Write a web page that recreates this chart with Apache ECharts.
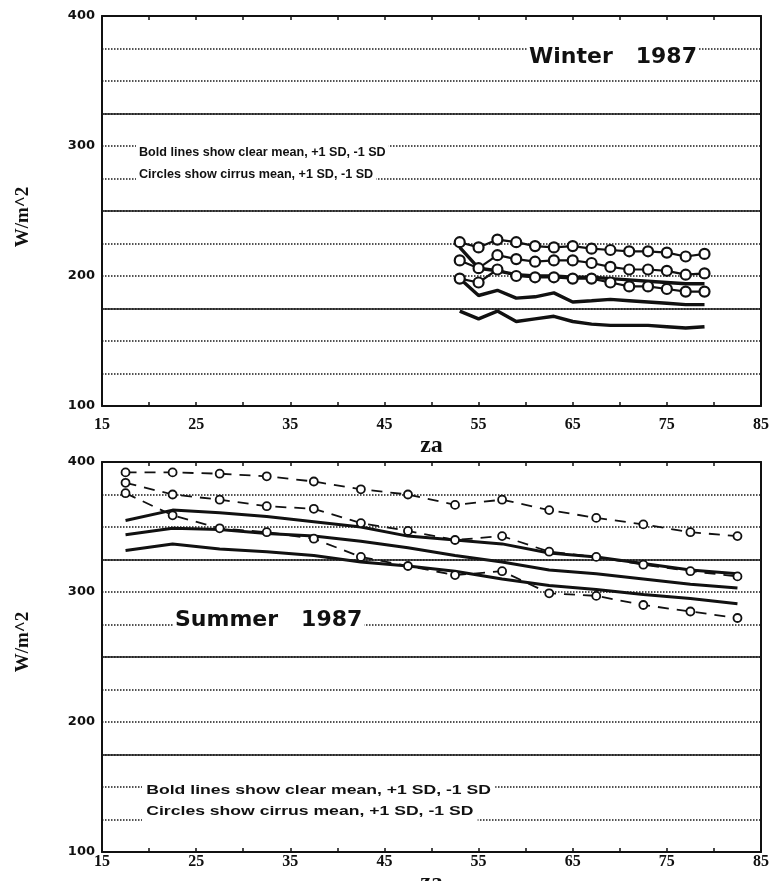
<!DOCTYPE html>
<html><head><meta charset="utf-8">
<script src="https://cdn.jsdelivr.net/npm/echarts@6/dist/echarts.min.js"></script>
<style>html,body{margin:0;padding:0;background:#fff}#c{width:769px;height:881px}</style>
</head><body><div id="c"></div>
<script>
// ---- data ----
const winterZa = [53,55,57,59,61,63,65,67,69,71,73,75,77,79];
const winterCirrusPlus  = [226,222,228,226,223,222,223,221,220,219,219,218,215,217];
const winterCirrusMean  = [212,206,216,213,211,212,212,210,207,205,205,204,201,202];
const winterCirrusMinus = [198,195,205,200,199,199,198,198,195,192,192,190,188,188];
const winterClearPlus   = [222,206,204,201,200,200,199,199,198,197,196,195,194,194];
const winterClearMean   = [198,185,189,183,184,187,180,181,182,181,180,179,178,178];
const winterClearMinus  = [173,167,173,165,167,169,165,163,162,162,162,161,160,161];

const summerZa = [17.5,22.5,27.5,32.5,37.5,42.5,47.5,52.5,57.5,62.5,67.5,72.5,77.5,82.5];
const summerCirrusPlus  = [392,392,391,389,385,379,375,367,371,363,357,352,346,343];
const summerCirrusMean  = [384,375,371,366,364,353,347,340,343,331,327,321,316,312];
const summerCirrusMinus = [376,359,349,346,341,327,320,313,316,299,297,290,285,280];
const summerClearPlus   = [355,363,361,358,354,350,343,340,337,330,327,322,317,314];
const summerClearMean   = [344,349,348,345,343,339,334,328,323,317,314,310,306,303];
const summerClearMinus  = [332,337,333,331,328,323,320,316,310,305,302,298,295,291];

const xTickLabels = [15,25,35,45,55,65,75,85];
const yTickLabels = [100,200,300,400];
const solidGridValues = [325,250,175];

const winterTitle = 'Winter   1987';
const summerTitle = 'Summer   1987';
const noteBold = 'Bold lines show clear mean, +1 SD, -1 SD';
const noteCircles = 'Circles show cirrus mean, +1 SD, -1 SD';
const yName = 'W/m^2';
const xName = 'za';

// ---- chart ----
const BLACK = '#111';
const pairs = (xs, ys) => xs.map((x, i) => [x, ys[i]]);

function bottomX(gi, margin, nameGap) {
  return {
    type: 'value', gridIndex: gi, position: 'bottom', min: 15, max: 85, interval: 5,
    name: xName, nameLocation: 'middle', nameGap: nameGap,
    nameTextStyle: {fontFamily: 'Liberation Serif', fontWeight: 'bold', fontSize: 24, color: BLACK},
    axisLine: {show: true, onZero: false, lineStyle: {color: BLACK, width: 2}},
    axisTick: {show: true, inside: true, length: 4, lineStyle: {color: BLACK, width: 1.5}},
    axisLabel: {show: true, margin: margin, showMinLabel: true, showMaxLabel: true, hideOverlap: false,
      formatter: v => xTickLabels.includes(v) ? String(v) : '',
      fontFamily: 'Liberation Serif', fontWeight: 'bold', fontSize: 16, color: BLACK},
    splitLine: {show: false}
  };
}
function topX(gi) {
  return {
    type: 'value', gridIndex: gi, position: 'top', min: 15, max: 85, interval: 5,
    axisLine: {show: true, onZero: false, lineStyle: {color: BLACK, width: 2}},
    axisTick: {show: true, inside: true, length: 4, lineStyle: {color: BLACK, width: 1.5}},
    axisLabel: {show: false}, splitLine: {show: false}
  };
}
function leftY(gi) {
  return {
    type: 'value', gridIndex: gi, position: 'left', min: 100, max: 400, interval: 25,
    axisLine: {show: true, onZero: false, lineStyle: {color: BLACK, width: 2}},
    axisTick: {show: false},
    axisLabel: {show: true, margin: 7, showMinLabel: true, showMaxLabel: true, hideOverlap: false,
      formatter: v => yTickLabels.includes(v) ? String(v) : '',
      fontFamily: 'DejaVu Sans', fontWeight: 'bold', fontSize: 13, color: BLACK},
    splitLine: {show: true, lineStyle: {color: '#1a1a1a', width: 1.5, type: [1.5, 1.5]}}
  };
}
function rightY(gi) {
  return {
    type: 'value', gridIndex: gi, position: 'right', min: 100, max: 400, interval: 25,
    axisLine: {show: true, onZero: false, lineStyle: {color: BLACK, width: 2}},
    axisTick: {show: false}, axisLabel: {show: false}, splitLine: {show: false}
  };
}

function cirrus(data, xi, yi, size, bw, lw, dash) {
  return {
    type: 'line', xAxisIndex: xi, yAxisIndex: yi, data: data, z: 5,
    symbol: 'circle', symbolSize: size, showSymbol: true,
    itemStyle: {color: '#fff', borderColor: BLACK, borderWidth: bw},
    lineStyle: {color: BLACK, width: lw, type: dash},
    emphasis: {disabled: true}, silent: true
  };
}
function clear(data, xi, yi, lw, extra) {
  return Object.assign({
    type: 'line', xAxisIndex: xi, yAxisIndex: yi, data: data, z: 3,
    symbol: 'none', showSymbol: false,
    lineStyle: {color: BLACK, width: lw, type: 'solid'},
    emphasis: {disabled: true}, silent: true
  }, extra || {});
}
function solidGrid() {
  return {
    markLine: {
      silent: true, symbol: ['none', 'none'], label: {show: false},
      lineStyle: {color: '#1a1a1a', width: 1.6, type: 'solid'},
      data: solidGridValues.map(v => ({yAxis: v}))
    }
  };
}

function txt(text, x, y, font, pad, sx) {
  return {
    type: 'text', x: x, y: y, z: 100, scaleX: sx || 1,
    style: {text: text, font: font, fill: BLACK, align: 'left', verticalAlign: 'middle',
      backgroundColor: '#fff', padding: pad}
  };
}
const noteFont = 'bold 12.6px "Liberation Sans", Arial, sans-serif';
const noteFontB = 'bold 12.4px "Liberation Sans", Arial, sans-serif';
const titleFont = 'bold 22px "DejaVu Sans", sans-serif';
const yNameFont = 'bold 19px "Liberation Serif", serif';

const option = {
  backgroundColor: '#fff',
  animation: false,
  grid: [
    {left: 102, top: 16, width: 659, height: 390, outerBoundsMode: 'none', containLabel: false},
    {left: 102, top: 462, width: 659, height: 390, outerBoundsMode: 'none', containLabel: false}
  ],
  xAxis: [bottomX(0, 11, 17), topX(0), bottomX(1, 2, 12), topX(1)],
  yAxis: [leftY(0), rightY(0), leftY(1), rightY(1)],
  series: [
    clear(pairs(winterZa, winterClearPlus), 0, 0, 3.4, solidGrid()),
    clear(pairs(winterZa, winterClearMean), 0, 0, 3.4),
    clear(pairs(winterZa, winterClearMinus), 0, 0, 3.4),
    cirrus(pairs(winterZa, winterCirrusPlus), 0, 0, 10, 2.2, 2.2, 'solid'),
    cirrus(pairs(winterZa, winterCirrusMean), 0, 0, 10, 2.2, 2.2, 'solid'),
    cirrus(pairs(winterZa, winterCirrusMinus), 0, 0, 10, 2.2, 2.2, 'solid'),
    clear(pairs(summerZa, summerClearPlus), 2, 2, 3, solidGrid()),
    clear(pairs(summerZa, summerClearMean), 2, 2, 3),
    clear(pairs(summerZa, summerClearMinus), 2, 2, 3),
    cirrus(pairs(summerZa, summerCirrusPlus), 2, 2, 8, 1.8, 1.8, [11, 8]),
    cirrus(pairs(summerZa, summerCirrusMean), 2, 2, 8, 1.8, 1.8, [11, 8]),
    cirrus(pairs(summerZa, summerCirrusMinus), 2, 2, 8, 1.8, 1.8, [11, 8])
  ],
  graphic: [
    txt(winterTitle, 527, 57, titleFont, [1, 2, 1, 2]),
    txt(summerTitle, 173, 620, titleFont, [1, 2, 1, 2]),
    txt(noteBold, 136, 153, noteFont, [5, 3, 2, 3]),
    txt(noteCircles, 136, 175, noteFont, [2, 3, 5, 3]),
    txt(noteBold, 142, 791, noteFontB, [5, 3, 2, 3], 1.42),
    txt(noteCircles, 142, 812, noteFontB, [2, 3, 9, 3], 1.42),
    {type: 'text', x: 23, y: 217, rotation: Math.PI / 2, z: 100,
      style: {text: yName, font: yNameFont, fill: BLACK, align: 'center', verticalAlign: 'middle'}},
    {type: 'text', x: 23, y: 642, rotation: Math.PI / 2, z: 100,
      style: {text: yName, font: yNameFont, fill: BLACK, align: 'center', verticalAlign: 'middle'}}
  ]
};
const chart = echarts.init(document.getElementById('c'), null, {renderer: 'canvas'});
chart.setOption(option);
</script>
</body></html>
